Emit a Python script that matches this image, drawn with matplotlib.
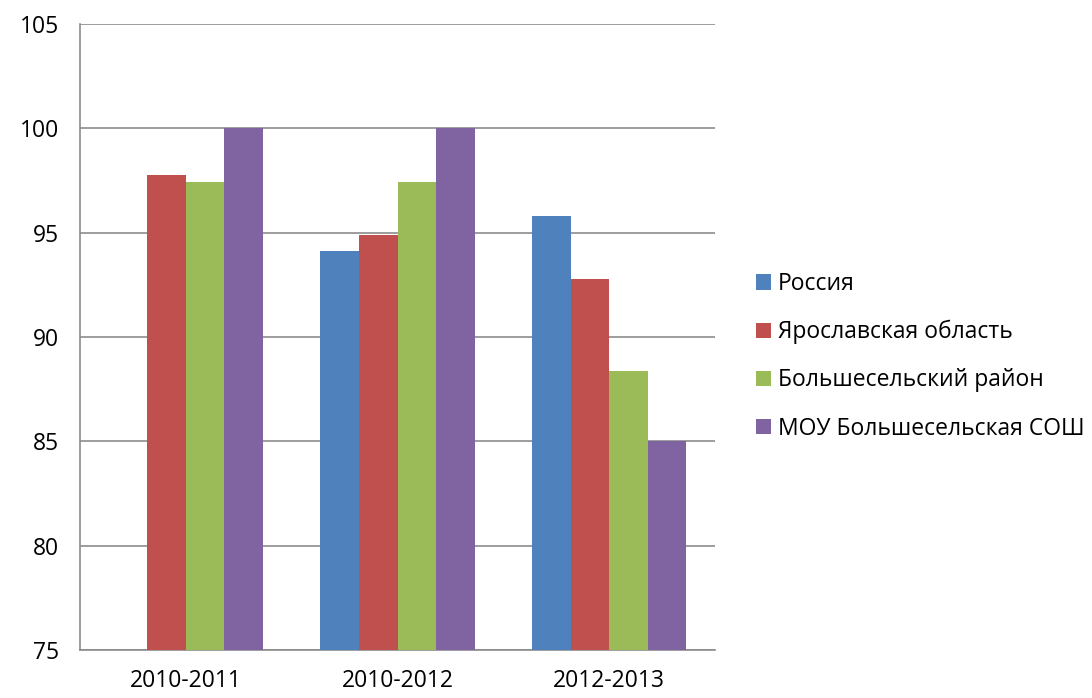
import numpy as np
import matplotlib as mpl
import matplotlib.pyplot as plt
from matplotlib.patches import Patch

categories = ["2010-2011", "2010-2012", "2012-2013"]
series_names = ["Россия", "Ярославская область", "Большесельский район", "МОУ Большесельская СОШ"]
russia = [np.nan, 94.1, 95.8]
yaroslavl = [97.75, 94.9, 92.8]
bolshoe_raion = [97.45, 97.45, 88.35]
mou_school = [100.0, 100.0, 85.0]
y_ticks = [75, 80, 85, 90, 95, 100, 105]

colors = ["#4F81BD", "#C0504D", "#9BBB59", "#8064A2"]

mpl.rcParams["font.family"] = ["Open Sans", "DejaVu Sans"]

fig = plt.figure(figsize=(10.92, 6.98), dpi=100, facecolor="white")
ax = fig.add_axes([80 / 1092, 1 - 650 / 698, 635 / 1092, 626 / 698])

x = np.arange(len(categories))
width = 0.182
all_series = [russia, yaroslavl, bolshoe_raion, mou_school]
for i, (vals, color) in enumerate(zip(all_series, colors)):
    offset = (i - 1.5) * width
    ax.bar(x + offset, np.array(vals) - 75, bottom=75, width=width, color=color,
           edgecolor="none", zorder=3)

ax.set_xlim(-0.5, 2.5)
ax.set_ylim(75, 105)
ax.set_yticks(y_ticks)
ax.set_xticks(x)
ax.set_xticklabels(categories)
ax.grid(axis="y", color="#8C8C8C", linewidth=1.2, zorder=0)
for side in ["top", "right"]:
    ax.spines[side].set_visible(False)
for side in ["left", "bottom"]:
    ax.spines[side].set_color("#8C8C8C")
    ax.spines[side].set_linewidth(1.2)
ax.tick_params(length=0, labelsize=16.5, colors="black")
ax.tick_params(axis="y", pad=15)
ax.tick_params(axis="x", pad=14)

handles = [Patch(facecolor=c, edgecolor="none") for c in colors]
fig.legend(handles, series_names, loc="upper left", bbox_to_anchor=(756 / 1092, 1 - 272 / 698),
           frameon=False, fontsize=16.5, handlelength=0.65, handleheight=0.65,
           handletextpad=0.3, labelspacing=1.05, borderpad=0, borderaxespad=0)

fig.savefig("out.png", dpi=100, facecolor="white")
